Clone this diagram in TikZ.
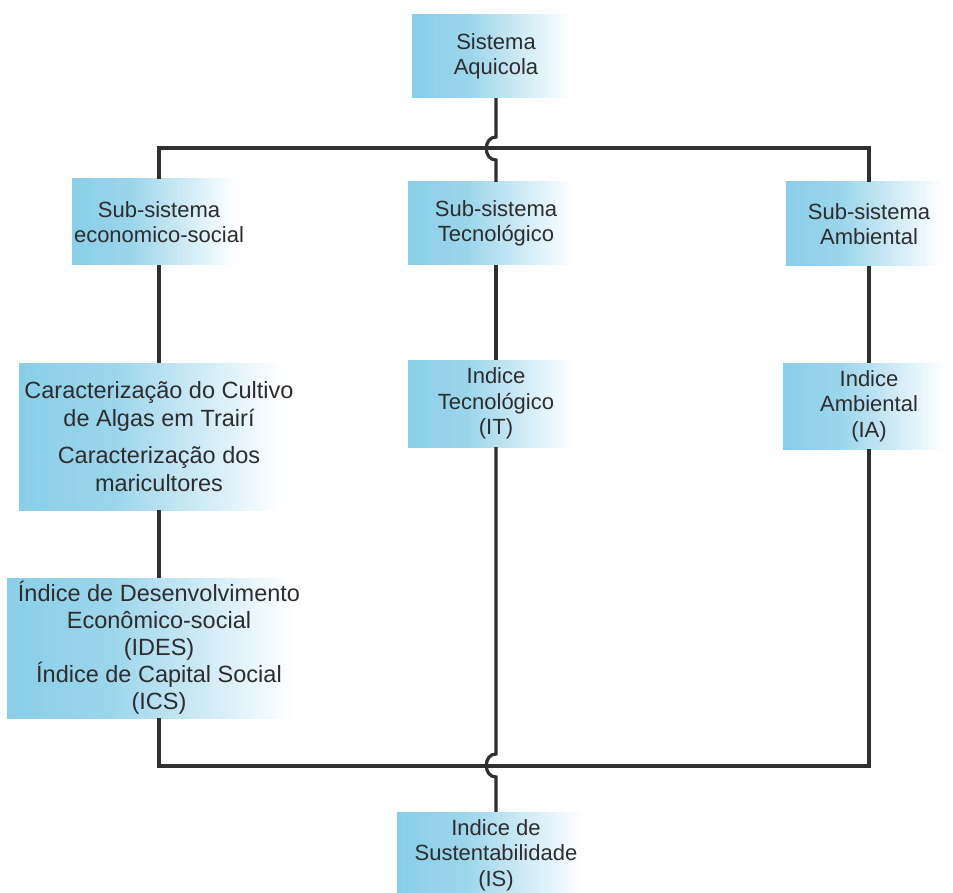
\documentclass[tikz,border=0pt]{standalone}
\usepackage{fontspec}
\setmainfont{Liberation Sans}
\definecolor{boxblue}{RGB}{138,206,232}
\definecolor{txt}{RGB}{45,45,45}
\definecolor{ln}{RGB}{48,48,48}
\pgfdeclarehorizontalshading{boxshade}{100bp}{color(0bp)=(boxblue); color(25bp)=(boxblue); color(42bp)=(boxblue!85!white); color(72bp)=(white); color(100bp)=(white)}
\tikzset{
  blk/.style={shade, shading=boxshade, inner sep=0pt, align=center, text=txt,
    font=\fontsize{22}{25.5}\selectfont},
  bigblk/.style={blk, font=\fontsize{23.5}{28}\selectfont},
  wire/.style={draw=ln, line width=3.2pt}
}
\begin{document}
\begin{tikzpicture}[x=1pt,y=-1pt]
\useasboundingbox[fill=white] (0,0) rectangle (953,893);
% boxes
\node[blk, minimum width=168pt, minimum height=83pt] (sys) at (496,56.5) {Sistema\\Aquicola};
\node[blk, minimum width=174pt, minimum height=86pt] (econ) at (159,222) {Sub-sistema\\economico-social};
\node[blk, minimum width=176pt, minimum height=83pt] (tec) at (496,223.5) {Sub-sistema\\Tecnológico};
\node[blk, minimum width=166pt, minimum height=84pt] (amb) at (869,224) {Sub-sistema\\Ambiental};
\node[bigblk, minimum width=280pt, minimum height=147pt] (carac) at (159,436.5)
  {Caracterização do Cultivo\\de Algas em Trairí\\[9pt]Caracterização dos\\maricultores};
\node[bigblk, minimum width=304pt, minimum height=140pt, font=\fontsize{23.5}{27}\selectfont] (ides) at (159,648)
  {Índice de Desenvolvimento\\Econômico-social\\(IDES)\\Índice de Capital Social\\(ICS)};
\node[blk, minimum width=176pt, minimum height=87pt] (it) at (496,403.5) {Indice\\Tecnológico\\(IT)};
\node[blk, minimum width=172pt, minimum height=86pt] (ia) at (869,406) {Indice\\Ambiental\\(IA)};
\node[blk, minimum width=198pt, minimum height=86pt] (is) at (496,855) {Indice de\\Sustentabilidade\\(IS)};
% bus levels and hops
\coordinate (tb) at (0,148);
\coordinate (bb) at (0,766);
\coordinate (h1a) at (496,137);
\coordinate (h1b) at (496,160);
\coordinate (h2a) at (496,754);
\coordinate (h2b) at (496,777);
% top bus
\draw[wire] (econ.north) -- (econ.north |- tb) -- (amb.north |- tb) -- (amb.north);
% bottom bus
\draw[wire] (ides.south) -- (ides.south |- bb) -- (ia.south |- bb) -- (ia.south);
% middle column with hops
\draw[wire] (sys.south) -- (h1a) .. controls (483,137) and (483,160) .. (h1b) -- (tec.north);
\draw[wire] (it.south) -- (h2a) .. controls (483,754) and (483,777) .. (h2b) -- (is.north);
% column links
\draw[wire] (econ.south) -- (carac.north);
\draw[wire] (carac.south) -- (ides.north);
\draw[wire] (tec.south) -- (it.north);
\draw[wire] (amb.south) -- (ia.north);
\end{tikzpicture}
\end{document}
